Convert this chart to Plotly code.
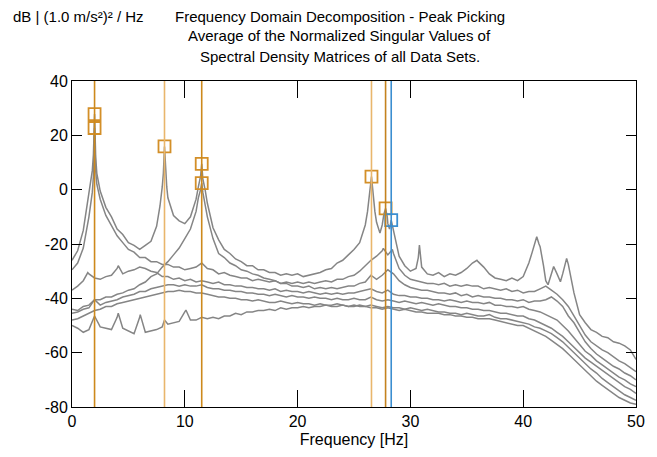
import numpy as np
import plotly.graph_objects as go

# frequency bins (Hz) of the averaged singular value spectra
freq_grid = np.arange(0, 50.01, 0.5)

# singular value curves in dB on the 0.5 Hz grid
sv1_db = [-26.0, -22.5, -15.0, -2.0, 27.8, -0.5, -6.5, -10.0, -14.5, -16.5,
          -19.5, -20.5, -22.0, -20.5, -19.0, -13.5, 1.0, -3.0, -9.5, -11.5,
          -12.5, -10.0, -3.5, 9.5, -5.0, -14.0, -18.5, -22.0, -23.5, -25.5,
          -26.5, -28.0, -28.0, -29.5, -29.5, -30.5, -30.5, -31.5, -31.0, -31.5,
          -31.0, -32.0, -31.5, -31.0, -30.5, -29.5, -29.0, -27.0, -26.0, -24.0,
          -22.0, -19.5, -13.0, 3.0, -12.0, -13.0, -12.5, -16.0, -24.5, -28.0,
          -30.0, -29.0, -28.5, -31.0, -31.5, -30.5, -32.0, -31.0, -31.5, -30.5,
          -29.0, -27.0, -26.5, -28.5, -31.0, -32.5, -33.0, -33.5, -32.5, -33.5,
          -32.0, -27.0, -20.0, -21.0, -33.5, -31.0, -31.0, -31.0, -27.5, -38.0,
          -46.0, -49.0, -51.5, -52.5, -54.0, -54.5, -56.0, -56.5, -57.5, -59.0,
          -62.5]
sv2_db = [-29.5, -27.0, -21.5, -10.0, 22.7, -3.5, -9.5, -13.0, -17.0, -19.5,
          -22.0, -23.0, -25.0, -25.0, -26.5, -26.5, -27.5, -27.5, -28.5, -28.5,
          -29.5, -29.0, -28.5, -27.0, -29.0, -29.5, -31.0, -30.5, -31.5, -32.0,
          -32.5, -32.5, -33.5, -33.0, -33.5, -34.0, -33.5, -34.5, -34.0, -34.5,
          -34.0, -34.5, -34.0, -34.5, -34.0, -33.5, -34.0, -33.0, -33.0, -32.0,
          -31.5, -30.0, -28.0, -26.0, -24.5, -22.5, -24.0, -23.5, -29.0, -31.5,
          -33.0, -33.5, -34.0, -34.5, -34.5, -35.0, -34.5, -35.5, -35.0, -35.5,
          -35.0, -35.5, -35.5, -36.5, -36.0, -36.5, -37.0, -36.5, -37.5, -37.0,
          -38.0, -37.5, -37.5, -36.5, -35.5, -37.0, -38.5, -40.5, -43.0, -46.5,
          -50.0, -53.5, -56.0, -57.5, -59.0, -60.0, -61.5, -63.0, -64.0, -65.5,
          -67.0]
sv3_db = [-44.0, -44.5, -43.0, -42.5, -40.5, -40.5, -39.5, -39.5, -38.5, -38.0,
          -37.0, -36.5, -35.0, -34.0, -32.0, -31.0, -28.5, -26.5, -24.0, -21.5,
          -18.0, -14.5, -8.0, 2.4, -10.0, -18.0, -23.5, -25.0, -27.0, -28.0,
          -29.5, -30.0, -31.0, -31.5, -32.5, -33.0, -33.5, -34.5, -34.5, -35.5,
          -35.5, -36.0, -35.5, -36.5, -36.0, -36.5, -36.0, -36.5, -36.0, -35.5,
          -35.5, -34.5, -34.0, -31.5, -33.0, -31.5, -29.5, -31.0, -33.5, -35.0,
          -36.0, -36.5, -37.0, -37.0, -37.5, -38.0, -38.0, -38.5, -38.0, -39.0,
          -38.5, -39.5, -39.0, -39.5, -39.5, -40.0, -40.0, -40.5, -40.5, -41.0,
          -40.5, -41.5, -41.0, -41.0, -40.5, -39.5, -41.0, -43.0, -46.5, -49.0,
          -52.5, -56.0, -58.5, -60.5, -62.0, -63.5, -65.0, -66.0, -67.5, -68.5,
          -70.0]
sv4_db = [-37.0, -35.5, -33.5, -31.0, -32.5, -33.0, -32.0, -31.5, -29.0, -31.0,
          -30.0, -29.5, -28.5, -29.0, -30.0, -30.5, -32.0, -32.0, -33.0, -32.5,
          -33.5, -33.0, -34.0, -33.5, -34.0, -34.5, -34.0, -35.0, -35.0, -35.5,
          -35.5, -36.0, -36.0, -36.5, -36.5, -37.0, -36.5, -37.5, -37.0, -37.5,
          -37.5, -38.0, -37.5, -38.0, -38.5, -38.0, -38.5, -38.0, -38.5, -38.0,
          -38.0, -37.5, -37.0, -36.5, -37.5, -38.0, -37.0, -38.5, -39.0, -39.0,
          -39.5, -39.5, -40.0, -40.0, -40.5, -40.5, -41.0, -40.5, -41.0, -41.5,
          -41.0, -41.5, -41.5, -42.0, -41.5, -42.5, -42.5, -43.0, -43.0, -43.5,
          -43.0, -44.0, -44.5, -45.0, -46.0, -47.0, -48.0, -50.0, -52.0, -54.5,
          -57.0, -59.5, -61.0, -63.0, -64.5, -66.0, -67.5, -69.0, -70.0, -71.5,
          -72.5]
sv5_db = [-45.5, -45.0, -44.0, -43.5, -40.5, -42.5, -41.5, -41.0, -40.5, -39.5,
          -39.0, -38.5, -37.5, -37.5, -36.5, -36.0, -35.5, -35.0, -35.0, -35.5,
          -35.0, -35.5, -35.5, -35.0, -36.0, -36.5, -36.5, -37.0, -37.0, -37.5,
          -37.5, -38.0, -38.0, -38.5, -38.5, -39.0, -38.5, -39.0, -39.5, -39.0,
          -39.5, -39.5, -40.0, -39.5, -40.0, -40.0, -40.5, -40.0, -40.5, -40.5,
          -40.0, -40.5, -40.5, -39.5, -40.5, -41.0, -40.5, -41.0, -41.5, -41.0,
          -41.5, -42.0, -41.5, -42.0, -42.5, -42.0, -42.5, -43.0, -43.0, -43.5,
          -43.5, -44.0, -44.0, -44.5, -44.5, -45.0, -45.5, -45.5, -46.0, -46.5,
          -46.5, -47.5, -48.0, -49.0, -50.0, -51.0, -52.5, -54.0, -56.0, -58.0,
          -60.0, -62.0, -63.5, -65.0, -66.5, -68.0, -69.5, -71.0, -72.5, -73.5,
          -75.0]
sv6_db = [-48.0, -47.5, -46.5, -45.5, -44.5, -44.0, -43.0, -43.0, -42.0, -41.5,
          -41.0, -40.5, -40.0, -39.5, -39.0, -38.5, -38.0, -37.5, -37.5, -37.0,
          -37.5, -37.5, -38.0, -38.0, -38.5, -39.0, -39.5, -39.5, -40.0, -40.0,
          -40.5, -40.5, -41.0, -40.5, -41.0, -41.5, -41.5, -41.0, -41.5, -42.0,
          -41.5, -42.0, -42.0, -42.5, -42.0, -42.5, -42.5, -42.0, -42.5, -43.0,
          -42.5, -43.0, -43.0, -42.5, -43.0, -43.5, -43.0, -43.5, -43.5, -44.0,
          -43.5, -44.0, -44.5, -44.0, -44.5, -45.0, -45.0, -45.5, -45.5, -46.0,
          -45.5, -46.0, -46.5, -46.5, -46.0, -47.0, -47.5, -47.5, -48.0, -48.5,
          -49.0, -49.5, -50.5, -51.0, -52.0, -53.0, -54.5, -56.0, -58.0, -60.0,
          -62.0, -64.0, -66.0, -67.5, -69.5, -71.0, -72.5, -74.0, -75.5, -76.5,
          -77.5]
sv7_db = [-50.0, -51.0, -52.5, -51.5, -46.5, -50.5, -51.0, -51.5, -47.0, -51.0,
          -52.0, -53.0, -47.0, -52.5, -52.0, -51.5, -50.5, -49.5, -49.0, -48.5,
          -45.0, -48.0, -48.0, -47.0, -47.5, -47.0, -47.5, -46.5, -46.5, -45.5,
          -46.0, -45.0, -45.0, -44.5, -44.5, -44.0, -44.5, -43.5, -44.0, -43.5,
          -43.5, -43.0, -43.5, -43.0, -43.0, -42.5, -43.0, -43.0, -42.5, -43.0,
          -43.0, -42.5, -43.0, -43.5, -43.5, -44.0, -43.5, -44.0, -44.5, -44.0,
          -44.5, -45.0, -45.0, -45.5, -45.5, -45.5, -46.0, -46.0, -46.5, -46.5,
          -47.0, -47.0, -47.5, -47.5, -47.5, -48.0, -48.5, -49.0, -49.5, -50.0,
          -50.0, -51.0, -52.0, -53.0, -54.0, -55.5, -57.0, -58.5, -60.5, -62.5,
          -64.5, -66.5, -68.5, -70.5, -72.0, -73.5, -75.0, -76.5, -77.5, -78.5,
          -79.0]

# extra samples around the resonance peaks (off the 0.5 Hz grid)
sv1_peak_f = [1.8, 1.9, 2.1, 2.2, 7.8, 8.1, 8.2, 8.3, 8.4, 11.2, 11.4, 11.6, 11.8,
              26.2, 26.4, 26.55, 26.7, 26.85, 27.3, 27.65, 27.8, 27.95, 28.15,
              28.3, 28.45, 30.7, 30.8, 30.9, 35.9, 40.8, 41.2, 41.4, 41.8, 42.2,
              42.7, 43.3, 43.85, 44.2]
sv1_peak_db = [7.0, 13.0, 12.0, 6.0, -6.0, 6.0, 15.9, 6.0, 1.0, 1.0, 5.0, 4.0, 0.0,
               -8.0, -2.0, 4.8, -3.0, -8.0, -16.0, -9.0, -6.9, -10.0, -14.5,
               -11.2, -14.0, -25.0, -20.4, -25.0, -26.0, -23.0, -17.3, -20.0, -28.0,
               -35.0, -28.3, -33.9, -25.3, -32.0]
sv2_peak_f = [1.8, 1.9, 2.1, 2.2, 27.6, 28.4]
sv2_peak_db = [-1.0, 5.0, 7.0, 2.0, -21.6, -22.0]
sv3_peak_f = [11.2, 11.4, 11.6, 11.8]
sv3_peak_db = [-3.0, 0.0, -1.0, -5.0]
sv4_peak_f = [1.4, 4.1]
sv4_peak_db = [-30.5, -28.0]
sv7_peak_f = [4.1, 6.05, 8.2, 10.1]
sv7_peak_db = [-45.5, -46.0, -48.0, -44.3]

# picked peaks
pick_f = [2.0, 2.0, 8.2, 11.5, 11.5, 26.55, 27.8, 28.3]
pick_db = [27.8, 22.7, 15.9, 9.5, 2.4, 4.8, -6.9, -11.2]
pick_colors = ['#d38f28', '#d38f28', '#d38f28', '#d38f28', '#d38f28',
               '#d38f28', '#d38f28', '#3b8ed0']

line_f = [2.0, 8.2, 11.5, 26.55, 27.8, 28.3]
line_colors = ['#cd891c', '#e9b66c', '#cd891c', '#e9b66c', '#c4821e', '#3b8ed0']

y_ticks = [-80, -60, -40, -20, 0, 20, 40]
y_ticktext = ['-80', '-60', '-40', '-20', '0', '20', '40']

title_lines = ['Frequency Domain Decomposition - Peak Picking',
               'Average of the Normalized Singular Values of',
               'Spectral Density Matrices of all Data Sets.']


def merge(base, extra_f, extra_db):
    pts = sorted(list(zip(freq_grid.tolist(), base)) + list(zip(extra_f, extra_db)))
    return [p[0] for p in pts], [p[1] for p in pts]


curves = [
    merge(sv1_db, sv1_peak_f, sv1_peak_db),
    merge(sv2_db, sv2_peak_f, sv2_peak_db),
    merge(sv3_db, sv3_peak_f, sv3_peak_db),
    merge(sv4_db, sv4_peak_f, sv4_peak_db),
    merge(sv5_db, [], []),
    merge(sv6_db, [], []),
    merge(sv7_db, sv7_peak_f, sv7_peak_db),
]

fig = go.Figure()

for x, y in curves:
    fig.add_trace(go.Scatter(x=x, y=y, mode='lines',
                             line=dict(color='#858585', width=1.5)))

for f, c in zip(line_f, line_colors):
    fig.add_vline(x=f, line=dict(color=c, width=1.6))

fig.add_trace(go.Scatter(x=pick_f, y=pick_db, mode='markers',
                         marker=dict(symbol='square-open', size=12,
                                     color=pick_colors,
                                     line=dict(width=1.8, color=pick_colors))))

# title, one annotation per line (plot area is 326 px tall, top at 81 px)
for i, line in enumerate(title_lines):
    fig.add_annotation(text=line, xref='paper', yref='paper',
                       x=0.475, y=(407 - 16 - 20 * i) / 326,
                       xanchor='center', yanchor='middle',
                       showarrow=False, font=dict(size=15))

# unit label in the top-left corner
fig.add_annotation(text='dB | (1.0 m/s²)² / Hz', xref='paper', yref='paper',
                   x=-0.108, y=(407 - 16) / 326, xanchor='left', yanchor='middle',
                   showarrow=False, font=dict(size=15))

fig.update_layout(
    width=657, height=457,
    margin=dict(l=72, r=21, t=81, b=50, autoexpand=False),
    plot_bgcolor='white', paper_bgcolor='white',
    showlegend=False,
    font=dict(family='Liberation Sans, Arial, sans-serif', size=16, color='black'),
)
fig.update_xaxes(range=[0, 50], tickvals=[0, 10, 20, 30, 40, 50],
                 ticks='inside', ticklen=17, tickcolor='black',
                 showline=True, linecolor='black', mirror='ticks',
                 showgrid=False, zeroline=False,
                 title=dict(text='Frequency [Hz]', standoff=4, font=dict(size=16)))
fig.update_yaxes(range=[-80, 40], tickvals=y_ticks, ticktext=y_ticktext,
                 ticks='inside', ticklen=10, tickcolor='black',
                 showline=True, linecolor='black', mirror='ticks',
                 showgrid=False, zeroline=False)

fig.write_html("out.html", config={'displayModeBar': False},
               post_script="document.body.style.margin = '0';")
